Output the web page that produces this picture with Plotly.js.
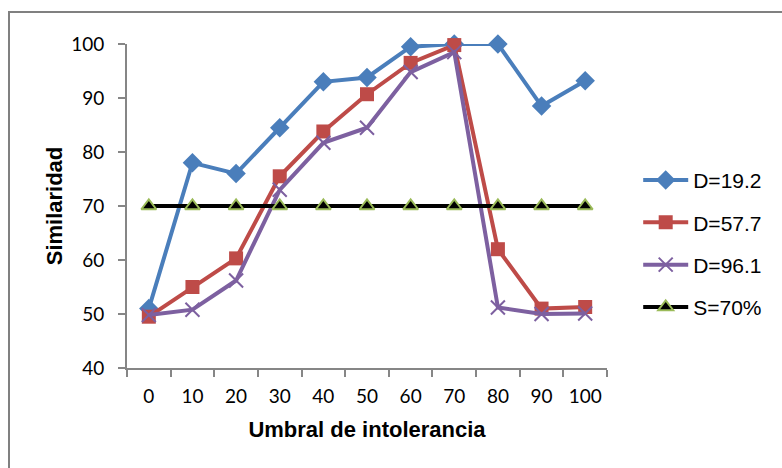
<!DOCTYPE html>
<html>
<head>
<meta charset="utf-8">
<script src="https://cdn.plot.ly/plotly-3.0.1.min.js"></script>
<style>
html,body{margin:0;padding:0;background:#fff;overflow:hidden;width:782px;height:468px;}
#frame{position:absolute;left:8px;top:11px;width:1000px;height:1000px;border:2px solid #808080;box-sizing:border-box;}
#chart{position:absolute;left:0;top:0;width:782px;height:468px;}
</style>
</head>
<body>
<div id="frame"></div>
<div id="chart"></div>
<script>
const categories = ["0","10","20","30","40","50","60","70","80","90","100"];
const d192 = [51, 78, 76, 84.5, 93, 93.8, 99.5, 100, 100, 88.5, 93.2];
const d577 = [49.5, 55, 60.3, 75.5, 83.8, 90.7, 96.5, 99.8, 62, 51, 51.3];
const d961 = [49.8, 50.8, 56.2, 73, 81.7, 84.5, 94.8, 98.5, 51.2, 50, 50.1];
const s70 = [70, 70, 70, 70, 70, 70, 70, 70, 70, 70, 70];
const seriesNames = ["D=19.2", "D=57.7", "D=96.1", "S=70%"];

const traces = [
  {x: categories, y: d192, name: seriesNames[0], legendgroup: "a", mode: "lines+markers", cliponaxis: false,
   line: {color: "#4A7EBB", width: 4}, marker: {symbol: "diamond", size: 15, color: "#4A7EBB"}},
  {x: categories, y: d577, name: seriesNames[1], legendgroup: "b", mode: "lines+markers", cliponaxis: false,
   line: {color: "#BE4B48", width: 4}, marker: {symbol: "square", size: 14, color: "#BE4B48"}},
  {x: categories, y: d961, name: seriesNames[2], legendgroup: "c", mode: "lines+markers", cliponaxis: false,
   line: {color: "#7D60A0", width: 4}, marker: {symbol: "x-thin", size: 14, color: "#7D60A0", line: {color: "#7D60A0", width: 2}}},
  {x: categories, y: s70, name: seriesNames[3], legendgroup: "d", mode: "lines+markers", cliponaxis: false,
   line: {color: "#000000", width: 4}, marker: {symbol: "triangle-up", size: 13, color: "#000000", line: {color: "#9BBB59", width: 2}}}
];

const layout = {
  width: 782, height: 468,
  margin: {l: 127, r: 175, t: 44, b: 100},
  paper_bgcolor: "rgba(0,0,0,0)",
  plot_bgcolor: "rgba(0,0,0,0)",
  showlegend: true,
  legend: {x: 1.065, y: 0.383, yanchor: "middle", xanchor: "left", itemwidth: 45,
    font: {family: "Liberation Sans, Arial, sans-serif", size: 21, color: "#000"},
    traceorder: "grouped", tracegroupgap: 12, bgcolor: "rgba(0,0,0,0)"},
  xaxis: {
    type: "category", range: [-0.5, 10.5], tickson: "boundaries", ticks: "outside", ticklen: 7, tickwidth: 2, tickcolor: "#868686",
    showline: true, linecolor: "#868686", linewidth: 2, showgrid: false, zeroline: false,
    tickangle: 0,
    tickfont: {family: "Lato, Open Sans, sans-serif", size: 19, color: "#000"},
    ticklabelstandoff: 10,
    title: {text: "Umbral de intolerancia", standoff: 16,
      font: {family: "Liberation Sans, Arial, sans-serif", size: 22, color: "#000", weight: "bold"}}
  },
  yaxis: {
    range: [40, 100], dtick: 10, ticks: "outside", ticklen: 7, tickwidth: 2, tickcolor: "#868686",
    showline: true, linecolor: "#868686", linewidth: 2, showgrid: false, zeroline: false,
    tickfont: {family: "Lato, Open Sans, sans-serif", size: 19, color: "#000"},
    ticklabelstandoff: 10,
    title: {text: "Similaridad", standoff: 2,
      font: {family: "Liberation Sans, Arial, sans-serif", size: 22, color: "#000", weight: "bold"}}
  }
};

Plotly.newPlot("chart", traces, layout, {displayModeBar: false, staticPlot: true});
</script>
</body>
</html>
